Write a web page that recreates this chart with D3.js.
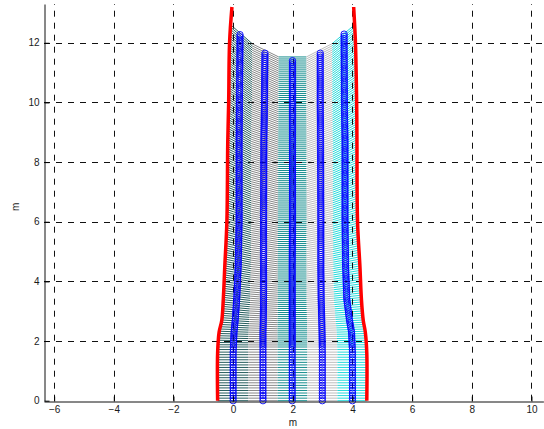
<!DOCTYPE html>
<html>
<head>
  <meta charset="utf-8" />
  <title>tracks</title>
  <script type="text/javascript" src="https://cdn.jsdelivr.net/npm/d3@7/dist/d3.min.js"></script>
  <style>
    body{ margin:0; background:white; }
    svg text{ font-family:"Liberation Sans", Arial, sans-serif; font-size:10px; fill:#1a1a1a; }
  </style>
</head>
<body>
  <script type="text/javascript">
    // - - - - - DATA (metres) - - - - - //
    var xTicks = [-6, -4, -2, 0, 2, 4, 6, 8, 10];
    var yTicks = [0, 2, 4, 6, 8, 10, 12];
    //heights where the wall and track x positions were read
    var knotY  = [0,     1.6,   2.3,   2.7,   3.4,   4.5,   6,     8.7,   10,    12,    13.2];
    var wallL  = [-0.52, -0.52, -0.47, -0.38, -0.33, -0.28, -0.21, -0.18, -0.15, -0.12, -0.04];
    var wallR  = [4.48,  4.48,  4.43,  4.36,  4.30,  4.25,  4.17,  4.15,  4.14,  4.10,  4.04];
    var track0 = [0,     0,     0.03,  0.07,  0.12,  0.17,  0.20,  0.20,  0.21,  0.23,  0.23];
    var track1 = [1,     1,     1,     1.01,  1.02,  1.02,  1.02,  1.03,  1.05,  1.07,  1.07];
    var track2 = [1.98,  1.98,  1.98,  1.98,  1.98,  1.98,  1.99,  1.99,  1.99,  1.99,  1.99];
    var track3 = [2.99,  2.99,  2.98,  2.97,  2.95,  2.94,  2.94,  2.93,  2.92,  2.92,  2.92];
    var track4 = [4,     4,     3.97,  3.90,  3.81,  3.77,  3.75,  3.75,  3.73,  3.72,  3.72];
    //height at the last step: fan edge L, tracks 0-4, fan edge R
    var trackTop = [12.6, 12.27, 11.65, 11.4, 11.65, 12.29, 12.6];
    //all tracks move together up to startY (nStart steps), then spread
    var startY = 1.8;
    var nStart = 21;
    var nSteps = 165;
    var bandColors = ["#245c5c", "#888888", "#138c8c", "#bdbdbd", "#22dada"];

    // - - - - - CANVAS - - - - - //
    var w = 544;
    var h = 429;
    var svg = d3.select("body")
      .append("svg")
      .attr("width", w)
      .attr("height", h);

    //axis equal: 29.83 px per metre both ways
    var xScale = d3.scaleLinear().domain([-6.34, 10.4]).range([44, 543.4]);
    var yScale = d3.scaleLinear().domain([0, 13.3]).range([400.7, 4]);

    // - - - - - TRACK SAMPLING - - - - - //
    var wallLx = d3.scaleLinear().domain(knotY).range(wallL);
    var wallRx = d3.scaleLinear().domain(knotY).range(wallR);
    var trackX = [wallLx].concat([track0, track1, track2, track3, track4].map(function(t){
      return d3.scaleLinear().domain(knotY).range(t);
    })).concat([wallRx]);
    var trackY = trackTop.map(function(top){
      return d3.scaleLinear().domain([0, nStart, nSteps-1]).range([0, startY, top]);
    });

    //step k -> [x,y] for the 7 tracks (edge, 5 tracks, edge)
    var steps = d3.range(nSteps).map(function(k){
      return trackY.map(function(sy, j){
        var y = sy(k);
        return [trackX[j](y), y];
      });
    });
    var mid = function(a, b){ return [(a[0]+b[0])/2, (a[1]+b[1])/2]; };

    // - - - - - BAND LINES - - - - - //
    var bands = svg.append("g").attr("class", "bands");
    steps.forEach(function(p){
      for (var i = 0; i < 5; i++){
        var a = (i == 0) ? p[0] : mid(p[i], p[i+1]);
        var b = (i == 4) ? p[6] : mid(p[i+1], p[i+2]);
        bands.append("line")
          .attr("x1", xScale(a[0])).attr("y1", yScale(a[1]))
          .attr("x2", xScale(b[0])).attr("y2", yScale(b[1]))
          .attr("stroke", bandColors[i])
          .attr("stroke-width", 1);
      }
    });

    // - - - - - GRID - - - - - //
    var grid = svg.append("g").attr("class", "grid")
      .attr("stroke", "#111")
      .attr("stroke-width", 1)
      .attr("stroke-dasharray", "6,6");
    grid.selectAll("line.gx")
      .data(xTicks)
      .enter().append("line")
      .attr("x1", function(d){ return Math.round(xScale(d)) + 0.5; })
      .attr("x2", function(d){ return Math.round(xScale(d)) + 0.5; })
      .attr("y1", yScale(0))
      .attr("y2", yScale(13.3));
    grid.selectAll("line.gy")
      .data(yTicks.slice(1))
      .enter().append("line")
      .attr("y1", function(d){ return Math.round(yScale(d)) + 0.5; })
      .attr("y2", function(d){ return Math.round(yScale(d)) + 0.5; })
      .attr("x1", xScale(-6.34))
      .attr("x2", xScale(10.4));

    // - - - - - WALLS - - - - - //
    var wallLine = function(xs){
      return d3.line()
        .x(function(d, i){ return xScale(xs[i]); })
        .y(function(d){ return yScale(d); })
        .curve(d3.curveCatmullRom)(knotY);
    };
    [wallL, wallR].forEach(function(xs){
      svg.append("path")
        .attr("d", wallLine(xs))
        .attr("fill", "none")
        .attr("stroke", "red")
        .attr("stroke-width", 3.5);
    });

    // - - - - - TRACK MARKERS - - - - - //
    var marks = svg.append("g").attr("class", "marks");
    for (var j = 1; j <= 5; j++){
      marks.selectAll("circle.t" + j)
        .data(steps.map(function(p){ return p[j]; }))
        .enter().append("circle")
        .attr("cx", function(d){ return xScale(d[0]); })
        .attr("cy", function(d){ return yScale(d[1]); })
        .attr("r", 3.2)
        .attr("fill", "none")
        .attr("stroke", "#0000ff")
        .attr("stroke-width", 0.9);
    }

    // - - - - - AXES - - - - - //
    var xAxis = d3.axisBottom(xScale)
      .tickValues(xTicks)
      .tickSizeInner(-5)
      .tickSizeOuter(0)
      .tickPadding(4);
    var yAxis = d3.axisLeft(yScale)
      .tickValues(yTicks)
      .tickSizeInner(-5)
      .tickSizeOuter(0)
      .tickPadding(5);
    svg.append("g")
      .attr("transform", "translate(0," + (Math.round(yScale(0)) + 0.5) + ")")
      .call(xAxis)
      .call(function(g){ g.select(".domain").attr("stroke", "#111"); });
    svg.append("g")
      .attr("transform", "translate(" + (Math.round(xScale(-6.34)) + 0.5) + ",0)")
      .call(yAxis)
      .call(function(g){ g.select(".domain").attr("stroke", "#111"); });
    svg.selectAll(".tick text").attr("font-size", "10px").attr("font-family", null).attr("fill", "#1a1a1a");

    //axis labels
    svg.append("text")
      .attr("x", xScale(2))
      .attr("y", 426)
      .attr("text-anchor", "middle")
      .text("m");
    svg.append("text")
      .attr("transform", "translate(19," + yScale(6.5) + ") rotate(-90)")
      .attr("text-anchor", "middle")
      .text("m");
  </script>
</body>
</html>
